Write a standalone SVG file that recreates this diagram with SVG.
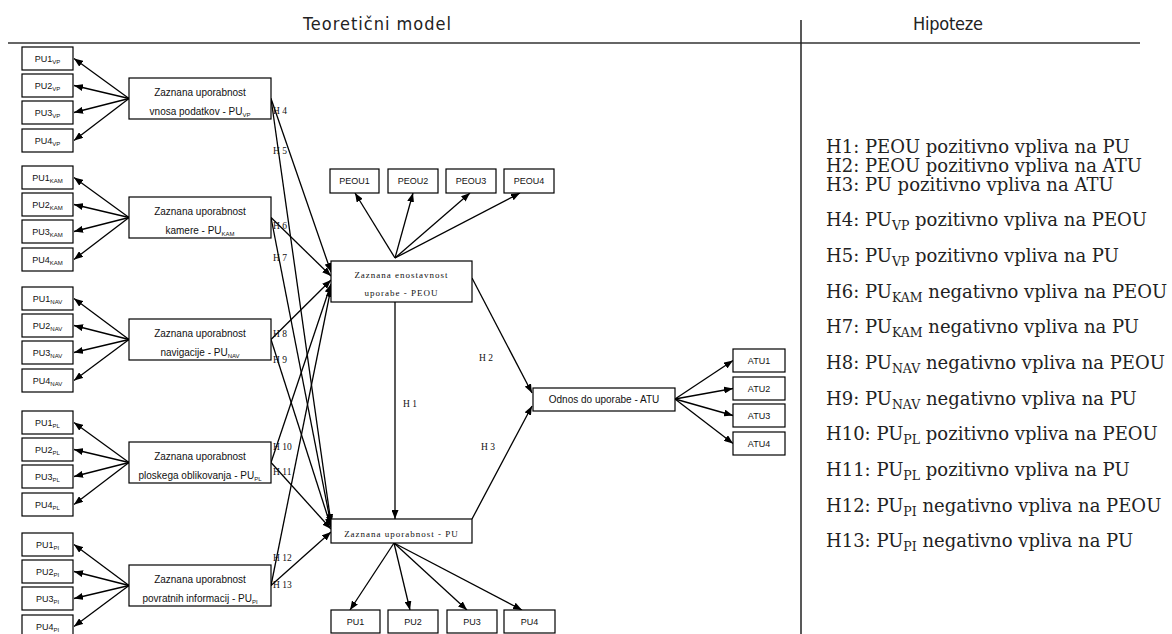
<svg xmlns="http://www.w3.org/2000/svg" width="1172" height="634" viewBox="0 0 1172 634">
  <style>
    .box { fill: #fff; stroke: #000; stroke-width: 1.2; }
    .con { stroke: #000; stroke-width: 1.3; fill: none; marker-end: url(#ah); }
    .sans { font-family: "Liberation Sans", Arial, sans-serif; fill: #111; text-anchor: middle; }
    .ind { font-size: 9px; }
    .ttl { font-size: 10px; }
    .mono { font-family: "Liberation Serif", "Times New Roman", serif; font-size: 9px; letter-spacing: 1px; fill: #111; text-anchor: middle; }
    .hl { font-family: "Liberation Serif", "Times New Roman", serif; font-size: 9.5px; fill: #111; }
    .head { font-family: "Liberation Sans Narrow", "DejaVu Sans Condensed", sans-serif; font-size: 18px; fill: #222; }
    .hyp { font-family: "DejaVu Serif", "Liberation Serif", serif; font-size: 18px; fill: #222; }
    .sub6 { font-size: 6px; }
    .sub12 { font-size: 12.5px; }
  </style>
  <defs>
    <marker id="ah" viewBox="0 0 10 10" refX="10" refY="5" markerWidth="9" markerHeight="7" markerUnits="userSpaceOnUse" orient="auto" preserveAspectRatio="none">
      <path d="M0,0 L10,5 L0,10 z" fill="#000"/>
    </marker>
  </defs>

  <!-- header and divider -->
  <g id="header">
    <text class="head" x="303" y="30" textLength="148">Teoretični model</text>
    <text class="head" x="913" y="30" textLength="70">Hipoteze</text>
    <line x1="8" y1="43" x2="1140" y2="43" stroke="#333" stroke-width="1.3"/>
    <line x1="801" y1="20" x2="801" y2="634" stroke="#222" stroke-width="1.5"/>
  </g>

  <!-- connectors -->
  <g id="connectors">
    <!-- PU_VP indicators -->
    <line class="con" x1="129" y1="98.5" x2="74" y2="58.5"/>
    <line class="con" x1="129" y1="98.5" x2="74" y2="85.5"/>
    <line class="con" x1="129" y1="98.5" x2="74" y2="112.5"/>
    <line class="con" x1="129" y1="98.5" x2="74" y2="140.5"/>
    <!-- PU_KAM indicators -->
    <line class="con" x1="129" y1="217.5" x2="74" y2="177.5"/>
    <line class="con" x1="129" y1="217.5" x2="74" y2="204.5"/>
    <line class="con" x1="129" y1="217.5" x2="74" y2="231.5"/>
    <line class="con" x1="129" y1="217.5" x2="74" y2="259.5"/>
    <!-- PU_NAV indicators -->
    <line class="con" x1="129" y1="339.5" x2="74" y2="298.5"/>
    <line class="con" x1="129" y1="339.5" x2="74" y2="325.5"/>
    <line class="con" x1="129" y1="339.5" x2="74" y2="352.5"/>
    <line class="con" x1="129" y1="339.5" x2="74" y2="380.5"/>
    <!-- PU_PL indicators -->
    <line class="con" x1="129" y1="462.5" x2="74" y2="422.5"/>
    <line class="con" x1="129" y1="462.5" x2="74" y2="449.5"/>
    <line class="con" x1="129" y1="462.5" x2="74" y2="476.5"/>
    <line class="con" x1="129" y1="462.5" x2="74" y2="504.5"/>
    <!-- PU_PI indicators -->
    <line class="con" x1="129" y1="585.5" x2="74" y2="544.5"/>
    <line class="con" x1="129" y1="585.5" x2="74" y2="571.5"/>
    <line class="con" x1="129" y1="585.5" x2="74" y2="598.5"/>
    <line class="con" x1="129" y1="585.5" x2="74" y2="626.5"/>

    <!-- hypotheses H4..H13 -->
    <line class="con" x1="271" y1="98.5" x2="331" y2="272"/>
    <line class="con" x1="271" y1="98.5" x2="331" y2="523"/>
    <line class="con" x1="271" y1="217.5" x2="331" y2="276"/>
    <line class="con" x1="271" y1="217.5" x2="331" y2="525"/>
    <line class="con" x1="271" y1="339.5" x2="331" y2="280"/>
    <line class="con" x1="271" y1="339.5" x2="331" y2="527"/>
    <line class="con" x1="271" y1="462.5" x2="331" y2="284"/>
    <line class="con" x1="271" y1="462.5" x2="331" y2="529"/>
    <line class="con" x1="271" y1="585.5" x2="331" y2="288"/>
    <line class="con" x1="271" y1="585.5" x2="331" y2="532"/>

    <!-- H1, H2, H3 -->
    <line class="con" x1="395" y1="302" x2="395" y2="519"/>
    <line class="con" x1="472" y1="278" x2="532" y2="393"/>
    <line class="con" x1="472" y1="519" x2="532" y2="406"/>

    <!-- PEOU indicators -->
    <line class="con" x1="395" y1="258" x2="355" y2="193"/>
    <line class="con" x1="395" y1="258" x2="413" y2="193"/>
    <line class="con" x1="395" y1="258" x2="470" y2="193"/>
    <line class="con" x1="395" y1="258" x2="520" y2="193"/>

    <!-- PU indicators -->
    <line class="con" x1="394" y1="543" x2="350" y2="610"/>
    <line class="con" x1="394" y1="543" x2="410" y2="610"/>
    <line class="con" x1="394" y1="543" x2="467" y2="610"/>
    <line class="con" x1="394" y1="543" x2="522" y2="610"/>

    <!-- ATU indicators -->
    <line class="con" x1="675" y1="399" x2="733" y2="360.5"/>
    <line class="con" x1="675" y1="399" x2="733" y2="388.5"/>
    <line class="con" x1="675" y1="399" x2="733" y2="415.5"/>
    <line class="con" x1="675" y1="399" x2="733" y2="443.5"/>

    <!-- path labels -->
    <text class="hl" x="273" y="114">H 4</text>
    <text class="hl" x="273" y="154">H 5</text>
    <text class="hl" x="273" y="229">H 6</text>
    <text class="hl" x="273" y="261">H 7</text>
    <text class="hl" x="273" y="337">H 8</text>
    <text class="hl" x="273" y="363">H 9</text>
    <text class="hl" x="273" y="450">H 10</text>
    <text class="hl" x="273" y="475">H 11</text>
    <text class="hl" x="273" y="561">H 12</text>
    <text class="hl" x="273" y="588">H 13</text>
    <text class="hl" x="403" y="407">H 1</text>
    <text class="hl" x="479" y="361">H 2</text>
    <text class="hl" x="481" y="450">H 3</text>
  </g>

  <!-- PU_VP construct and indicators -->
  <g id="pu-vp">
    <rect class="box" x="129" y="78" width="142" height="41"/>
    <text class="sans ttl" x="200" y="96">Zaznana uporabnost</text>
    <text class="sans ttl" x="200" y="115">vnosa podatkov - PU<tspan class="sub6" dy="2">VP</tspan></text>
    <rect class="box" x="22" y="47" width="51" height="23"/>
    <text class="sans ind" x="47.5" y="61.5">PU1<tspan class="sub6" dy="2">VP</tspan></text>
    <rect class="box" x="22" y="74" width="51" height="23"/>
    <text class="sans ind" x="47.5" y="88.5">PU2<tspan class="sub6" dy="2">VP</tspan></text>
    <rect class="box" x="22" y="101" width="51" height="23"/>
    <text class="sans ind" x="47.5" y="115.5">PU3<tspan class="sub6" dy="2">VP</tspan></text>
    <rect class="box" x="22" y="129" width="51" height="23"/>
    <text class="sans ind" x="47.5" y="143.5">PU4<tspan class="sub6" dy="2">VP</tspan></text>
  </g>

  <!-- PU_KAM construct and indicators -->
  <g id="pu-kam">
    <rect class="box" x="129" y="197" width="142" height="41"/>
    <text class="sans ttl" x="200" y="215">Zaznana uporabnost</text>
    <text class="sans ttl" x="200" y="234">kamere - PU<tspan class="sub6" dy="2">KAM</tspan></text>
    <rect class="box" x="22" y="166" width="51" height="23"/>
    <text class="sans ind" x="47.5" y="180.5">PU1<tspan class="sub6" dy="2">KAM</tspan></text>
    <rect class="box" x="22" y="193" width="51" height="23"/>
    <text class="sans ind" x="47.5" y="207.5">PU2<tspan class="sub6" dy="2">KAM</tspan></text>
    <rect class="box" x="22" y="220" width="51" height="23"/>
    <text class="sans ind" x="47.5" y="234.5">PU3<tspan class="sub6" dy="2">KAM</tspan></text>
    <rect class="box" x="22" y="248" width="51" height="23"/>
    <text class="sans ind" x="47.5" y="262.5">PU4<tspan class="sub6" dy="2">KAM</tspan></text>
  </g>

  <!-- PU_NAV construct and indicators -->
  <g id="pu-nav">
    <rect class="box" x="129" y="319" width="142" height="41"/>
    <text class="sans ttl" x="200" y="337">Zaznana uporabnost</text>
    <text class="sans ttl" x="200" y="356">navigacije - PU<tspan class="sub6" dy="2">NAV</tspan></text>
    <rect class="box" x="22" y="287" width="51" height="23"/>
    <text class="sans ind" x="47.5" y="301.5">PU1<tspan class="sub6" dy="2">NAV</tspan></text>
    <rect class="box" x="22" y="314" width="51" height="23"/>
    <text class="sans ind" x="47.5" y="328.5">PU2<tspan class="sub6" dy="2">NAV</tspan></text>
    <rect class="box" x="22" y="341" width="51" height="23"/>
    <text class="sans ind" x="47.5" y="355.5">PU3<tspan class="sub6" dy="2">NAV</tspan></text>
    <rect class="box" x="22" y="369" width="51" height="23"/>
    <text class="sans ind" x="47.5" y="383.5">PU4<tspan class="sub6" dy="2">NAV</tspan></text>
  </g>

  <!-- PU_PL construct and indicators -->
  <g id="pu-pl">
    <rect class="box" x="129" y="442" width="142" height="41"/>
    <text class="sans ttl" x="200" y="460">Zaznana uporabnost</text>
    <text class="sans ttl" x="200" y="479">ploskega oblikovanja - PU<tspan class="sub6" dy="2">PL</tspan></text>
    <rect class="box" x="22" y="411" width="51" height="23"/>
    <text class="sans ind" x="47.5" y="425.5">PU1<tspan class="sub6" dy="2">PL</tspan></text>
    <rect class="box" x="22" y="438" width="51" height="23"/>
    <text class="sans ind" x="47.5" y="452.5">PU2<tspan class="sub6" dy="2">PL</tspan></text>
    <rect class="box" x="22" y="465" width="51" height="23"/>
    <text class="sans ind" x="47.5" y="479.5">PU3<tspan class="sub6" dy="2">PL</tspan></text>
    <rect class="box" x="22" y="493" width="51" height="23"/>
    <text class="sans ind" x="47.5" y="507.5">PU4<tspan class="sub6" dy="2">PL</tspan></text>
  </g>

  <!-- PU_PI construct and indicators -->
  <g id="pu-pi">
    <rect class="box" x="129" y="565" width="142" height="41"/>
    <text class="sans ttl" x="200" y="583">Zaznana uporabnost</text>
    <text class="sans ttl" x="200" y="602">povratnih informacij - PU<tspan class="sub6" dy="2">PI</tspan></text>
    <rect class="box" x="22" y="533" width="51" height="23"/>
    <text class="sans ind" x="47.5" y="547.5">PU1<tspan class="sub6" dy="2">PI</tspan></text>
    <rect class="box" x="22" y="560" width="51" height="23"/>
    <text class="sans ind" x="47.5" y="574.5">PU2<tspan class="sub6" dy="2">PI</tspan></text>
    <rect class="box" x="22" y="587" width="51" height="23"/>
    <text class="sans ind" x="47.5" y="601.5">PU3<tspan class="sub6" dy="2">PI</tspan></text>
    <rect class="box" x="22" y="615" width="51" height="23"/>
    <text class="sans ind" x="47.5" y="629.5">PU4<tspan class="sub6" dy="2">PI</tspan></text>
  </g>

  <!-- perceived ease of use -->
  <g id="peou">
    <rect class="box" x="331" y="261" width="141" height="41"/>
    <text class="mono" x="401.5" y="278">Zaznana enostavnost</text>
    <text class="mono" x="401.5" y="296">uporabe - PEOU</text>
    <rect class="box" x="330" y="169" width="49" height="24"/>
    <text class="sans ind" x="354.5" y="184">PEOU1</text>
    <rect class="box" x="388" y="169" width="50" height="24"/>
    <text class="sans ind" x="413" y="184">PEOU2</text>
    <rect class="box" x="446" y="169" width="50" height="24"/>
    <text class="sans ind" x="471" y="184">PEOU3</text>
    <rect class="box" x="504" y="169" width="50" height="24"/>
    <text class="sans ind" x="529" y="184">PEOU4</text>
  </g>

  <!-- perceived usefulness -->
  <g id="pu">
    <rect class="box" x="331" y="519" width="141" height="24"/>
    <text class="mono" x="401.5" y="537">Zaznana uporabnost - PU</text>
    <rect class="box" x="331" y="610" width="49" height="23"/>
    <text class="sans ind" x="355.5" y="625">PU1</text>
    <rect class="box" x="388" y="610" width="50" height="23"/>
    <text class="sans ind" x="413" y="625">PU2</text>
    <rect class="box" x="447" y="610" width="50" height="23"/>
    <text class="sans ind" x="472" y="625">PU3</text>
    <rect class="box" x="504" y="610" width="51" height="23"/>
    <text class="sans ind" x="529.5" y="625">PU4</text>
  </g>

  <!-- attitude toward use -->
  <g id="atu">
    <rect class="box" x="533" y="388" width="142" height="23"/>
    <text class="sans ttl" x="604" y="403">Odnos do uporabe - ATU</text>
    <rect class="box" x="733" y="349" width="52" height="23"/>
    <text class="sans ind" x="759" y="364">ATU1</text>
    <rect class="box" x="733" y="377" width="52" height="23"/>
    <text class="sans ind" x="759" y="392">ATU2</text>
    <rect class="box" x="733" y="404" width="52" height="23"/>
    <text class="sans ind" x="759" y="419">ATU3</text>
    <rect class="box" x="733" y="432" width="52" height="23"/>
    <text class="sans ind" x="759" y="447">ATU4</text>
  </g>

  <!-- hypotheses list -->
  <g id="hypotheses" class="hyp">
    <text x="826" y="153">H1: PEOU pozitivno vpliva na PU</text>
    <text x="826" y="172">H2: PEOU pozitivno vpliva na ATU</text>
    <text x="826" y="191">H3: PU pozitivno vpliva na ATU</text>
    <text x="826" y="226">H4: PU<tspan class="sub12" dy="4">VP</tspan><tspan dy="-4"> pozitivno vpliva na PEOU</tspan></text>
    <text x="826" y="262">H5: PU<tspan class="sub12" dy="4">VP</tspan><tspan dy="-4"> pozitivno vpliva na PU</tspan></text>
    <text x="826" y="298">H6: PU<tspan class="sub12" dy="4">KAM</tspan><tspan dy="-4"> negativno vpliva na PEOU</tspan></text>
    <text x="826" y="333">H7: PU<tspan class="sub12" dy="4">KAM</tspan><tspan dy="-4"> negativno vpliva na PU</tspan></text>
    <text x="826" y="369">H8: PU<tspan class="sub12" dy="4">NAV</tspan><tspan dy="-4"> negativno vpliva na PEOU</tspan></text>
    <text x="826" y="405">H9: PU<tspan class="sub12" dy="4">NAV</tspan><tspan dy="-4"> negativno vpliva na PU</tspan></text>
    <text x="826" y="440">H10: PU<tspan class="sub12" dy="4">PL</tspan><tspan dy="-4"> pozitivno vpliva na PEOU</tspan></text>
    <text x="826" y="476">H11: PU<tspan class="sub12" dy="4">PL</tspan><tspan dy="-4"> pozitivno vpliva na PU</tspan></text>
    <text x="826" y="512">H12: PU<tspan class="sub12" dy="4">PI</tspan><tspan dy="-4"> negativno vpliva na PEOU</tspan></text>
    <text x="826" y="547">H13: PU<tspan class="sub12" dy="4">PI</tspan><tspan dy="-4"> negativno vpliva na PU</tspan></text>
  </g>
</svg>
